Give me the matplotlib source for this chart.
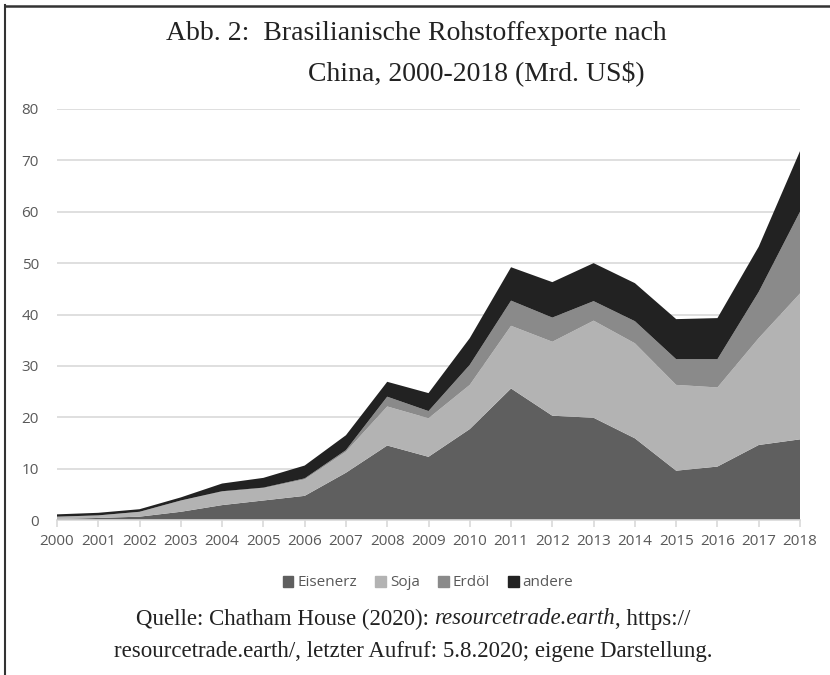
import numpy as np
import matplotlib.pyplot as plt
from matplotlib.lines import Line2D

years = list(range(2000, 2019))
eisenerz = [0.2, 0.4, 0.65, 1.6, 2.9, 3.8, 4.7, 9.2, 14.5, 12.3, 17.7, 25.6, 20.3, 19.9, 15.9, 9.6, 10.4, 14.6, 15.7]
soja = [0.45, 0.5, 0.95, 2.2, 2.6, 2.4, 3.2, 4.1, 7.6, 7.5, 8.6, 12.2, 14.4, 18.9, 18.5, 16.7, 15.4, 20.8, 28.4]
erdoel = [0.0, 0.0, 0.0, 0.0, 0.1, 0.1, 0.2, 0.3, 1.9, 1.4, 3.9, 4.9, 4.7, 3.8, 4.3, 5.0, 5.5, 9.0, 15.9]
andere = [0.45, 0.5, 0.5, 0.6, 1.5, 1.9, 2.5, 2.9, 2.9, 3.5, 5.2, 6.5, 6.9, 7.4, 7.4, 7.8, 8.0, 8.8, 11.8]

labels = ['Eisenerz', 'Soja', 'Erdöl', 'andere']
colors = ['#5f5f5f', '#b3b3b3', '#8a8a8a', '#222222']

W, H = 830, 675
fig = plt.figure(figsize=(W / 100, H / 100), dpi=100)
ax = fig.add_axes([57 / W, 155 / H, 743 / W, 411 / H])

ax.stackplot(years, eisenerz, soja, erdoel, andere, colors=colors,
             labels=labels, linewidth=0, zorder=2)

ax.set_xlim(2000, 2018)
ax.set_ylim(0, 80)
ax.set_yticks(range(0, 81, 10))
ax.set_xticks(years)
ax.grid(axis='y', color='#d9d9d9', linewidth=1.2, zorder=0)
for s in ['top', 'right', 'left']:
    ax.spines[s].set_visible(False)
ax.spines['bottom'].set_color('#d9d9d9')
ax.spines['bottom'].set_linewidth(1.2)
ax.tick_params(axis='y', length=0, pad=13, labelsize=11, labelcolor='#595959')
ax.tick_params(axis='x', length=5, color='#d9d9d9', width=1.2, pad=5,
               labelsize=11, labelcolor='#595959')
for t in ax.get_xticklabels() + ax.get_yticklabels():
    t.set_fontfamily('Open Sans')

handles = [plt.Rectangle((0, 0), 1, 1, color=c) for c in colors]
fig.legend(handles, labels, loc='center', bbox_to_anchor=(428 / W, 1 - 583 / H),
           ncol=4, frameon=False, handlelength=0.7, handleheight=0.7,
           handletextpad=0.25, columnspacing=1.2,
           prop={'family': 'Open Sans', 'size': 11}, labelcolor='#595959')

serif = 'Liberation Serif'
fig.text(416 / W, 1 - 33 / H, 'Abb. 2:  Brasilianische Rohstoffexporte nach',
         family=serif, fontsize=20, color='#222222', va='center', ha='center')
fig.text(476 / W, 1 - 73 / H, 'China, 2000-2018 (Mrd. US$)',
         family=serif, fontsize=20, color='#222222', va='center', ha='center')

# source line 1 with italic part
parts = [('Quelle: Chatham House (2020): ', 'normal'),
         ('resourcetrade.earth', 'italic'),
         (', https://', 'normal')]
fig.canvas.draw()
r = fig.canvas.get_renderer()
txts = []
for s, st in parts:
    t = fig.text(0, 1 - 619 / H, s, family=serif, fontsize=16.5, style=st,
                 color='#222222', va='center', ha='left')
    txts.append(t)
widths = [t.get_window_extent(r).width for t in txts]
x = (413 - sum(widths) / 2) / W
for t, w in zip(txts, widths):
    t.set_x(x)
    x += w / W
fig.text(413 / W, 1 - 651 / H,
         'resourcetrade.earth/, letzter Aufruf: 5.8.2020; eigene Darstellung.',
         family=serif, fontsize=16.5, color='#222222', va='center', ha='center')

# frame
fig.add_artist(Line2D([5 / W, 5 / W], [0, 1 - 5 / H], color='#333333', lw=1.5))
fig.add_artist(Line2D([5 / W, 1], [1 - 6 / H, 1 - 6 / H], color='#333333', lw=1.8))

fig.savefig('out.png', dpi=100)
